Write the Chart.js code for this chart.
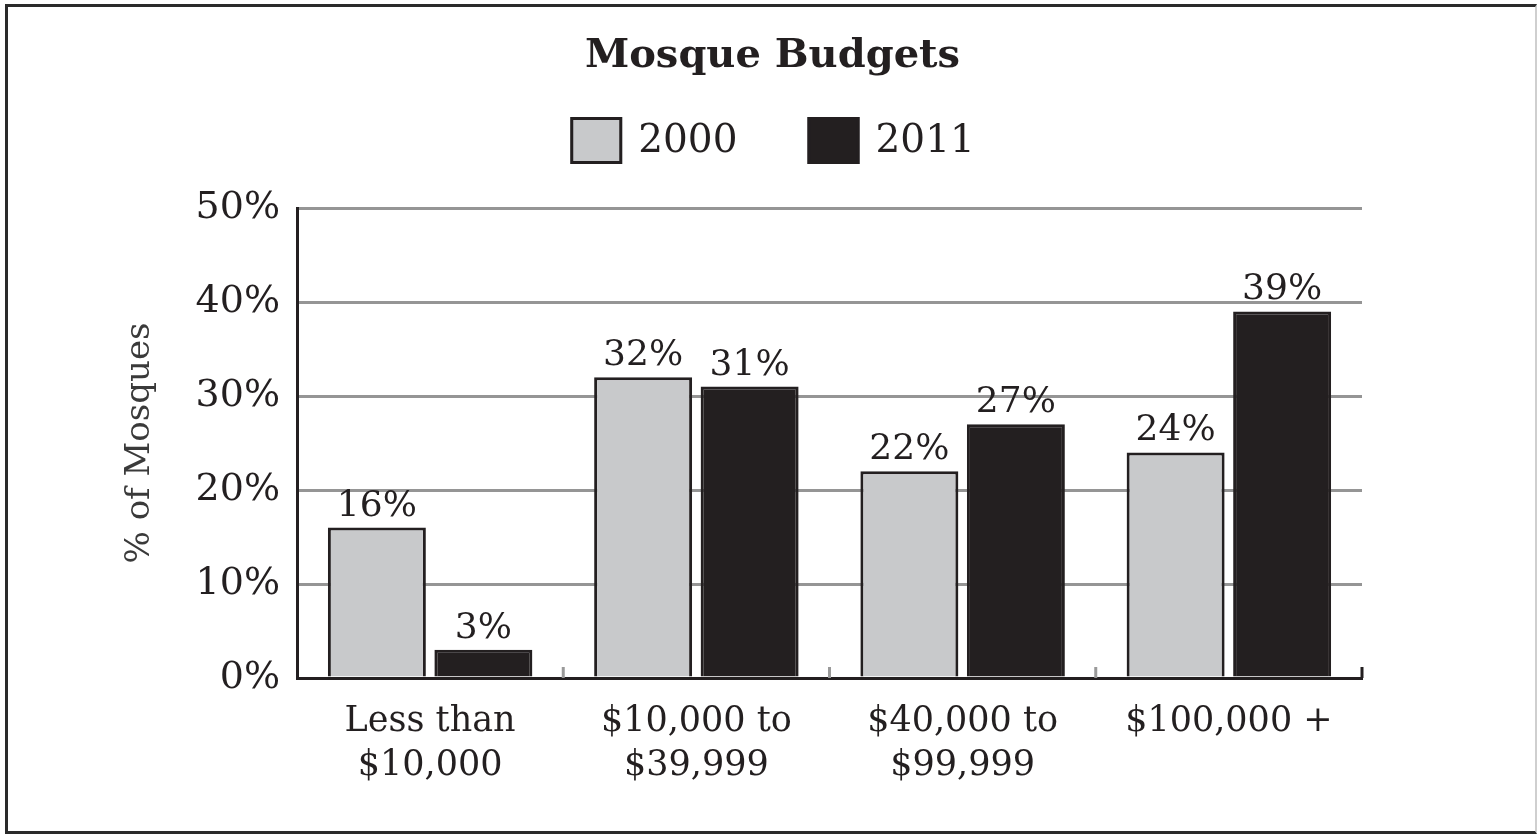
<!DOCTYPE html>
<html>
<head>
<meta charset="utf-8">
<title>Mosque Budgets</title>
<script src="https://cdn.jsdelivr.net/npm/chart.js@4.4.1/dist/chart.umd.min.js"></script>
<style>
    html, body { margin: 0; padding: 0; background: #ffffff; }
    #wrap { position: relative; width: 1537px; height: 834px; }
    #frame {
        position: absolute; left: 5px; top: 4px; right: 0; bottom: 0;
        border-left: 3px solid #2a2a2a; border-top: 3px solid #2a2a2a;
        border-bottom: 3px solid #2a2a2a; border-right: 2px solid #cfcfcf;
        pointer-events: none;
    }
    canvas { position: absolute; left: 0; top: 0; }
</style>
</head>
<body>
<div id="wrap">
    <canvas id="budgetChart" width="1537" height="834"></canvas>
    <div id="frame"></div>
</div>
<script>
// Budget brackets and share of mosques per survey year
const categories = [['Less than', '$10,000'], ['$10,000 to', '$39,999'], ['$40,000 to', '$99,999'], ['$100,000 +']];
const years = ['2000', '2011'];
const share2000 = [16, 32, 22, 24];
const share2011 = [3, 31, 27, 39];
const yTicks = [0, 10, 20, 30, 40, 50];

const INK = '#231f20';
const SERIF = "'DejaVu Serif', serif";

// Value labels above each bar
const barLabels = {
    id: 'barLabels',
    afterDatasetsDraw(chart) {
        const ctx = chart.ctx;
        ctx.save();
        ctx.font = '36px ' + SERIF;
        ctx.fillStyle = INK;
        ctx.textAlign = 'center';
        ctx.textBaseline = 'alphabetic';
        chart.data.datasets.forEach((ds, i) => {
            chart.getDatasetMeta(i).data.forEach((bar, j) => {
                ctx.fillText(ds.data[j] + '%', bar.x, bar.y - 12);
            });
        });
        ctx.restore();
    },
};

// Short upward tick marks on the category axis between groups
const axisTicks = {
    id: 'axisTicks',
    afterDatasetsDraw(chart) {
        const x = chart.scales.x;
        const ctx = chart.ctx;
        const base = chart.chartArea.bottom;
        ctx.save();
        ctx.lineWidth = 3;
        for (let i = 1; i <= categories.length; i++) {
            const px = x.getPixelForValue(i - 0.5);
            ctx.strokeStyle = i === categories.length ? INK : '#9a9a9a';
            ctx.beginPath();
            ctx.moveTo(px, base);
            ctx.lineTo(px, base - 11);
            ctx.stroke();
        }
        ctx.restore();
    },
};

// Legend row under the title: swatch, label, wide gap between entries
const swatchLegend = {
    id: 'swatchLegend',
    afterDraw(chart) {
        const ctx = chart.ctx;
        const title = chart.titleBlock;
        const cx = (title.left + title.right) / 2;
        const box = 52, boxH = 47, textGap = 16, itemGap = 70;
        const top = 117;
        ctx.save();
        ctx.font = '39px ' + SERIF;
        const items = chart.data.datasets.map(ds => ({ ds, w: ctx.measureText(ds.label).width }));
        const total = items.reduce((s, it) => s + box + textGap + it.w, 0) + itemGap * (items.length - 1);
        let x = cx - total / 2;
        items.forEach(({ ds, w }) => {
            ctx.fillStyle = ds.backgroundColor;
            ctx.fillRect(x, top, box, boxH);
            ctx.lineWidth = 3;
            ctx.strokeStyle = ds.borderColor;
            ctx.strokeRect(x + 1.5, top + 1.5, box - 3, boxH - 3);
            ctx.fillStyle = INK;
            ctx.textAlign = 'left';
            ctx.textBaseline = 'middle';
            ctx.fillText(ds.label, x + box + textGap, top + boxH / 2 + 1);
            x += box + textGap + w + itemGap;
        });
        ctx.restore();
    },
};

new Chart(document.getElementById('budgetChart'), {
    type: 'bar',
    data: {
        labels: categories,
        datasets: [{
            label: years[0],
            data: share2000,
            backgroundColor: '#c8c9cb',
            borderColor: INK,
            borderWidth: 3,
        }, {
            label: years[1],
            data: share2011,
            backgroundColor: INK,
            borderColor: INK,
            borderWidth: 3,
        }],
    },
    options: {
        responsive: false,
        animation: false,
        categoryPercentage: 0.8,
        barPercentage: 0.92,
        layout: {
            padding: { left: 8, right: 0, top: 0, bottom: 0 },
        },
        plugins: {
            tooltip: { enabled: false },
            legend: { display: false },
            title: {
                display: true,
                text: 'Mosque Budgets',
                color: INK,
                font: { family: SERIF, size: 40, weight: 'bold', lineHeight: 1.2 },
                padding: { top: 33, bottom: 127 },
            },
        },
        scales: {
            x: {
                grid: { display: false },
                border: { display: true, color: INK, width: 3 },
                ticks: {
                    color: INK,
                    font: { family: SERIF, size: 35, lineHeight: 1.25 },
                    padding: 14,
                    maxRotation: 0,
                },
                afterFit(scale) { scale.height = 834 - 678; },
            },
            y: {
                min: 0,
                max: 50,
                afterBuildTicks(scale) { scale.ticks = yTicks.map(v => ({ value: v })); },
                grid: {
                    color: '#959595',
                    lineWidth: 3,
                    drawTicks: false,
                },
                border: { display: true, color: INK, width: 3 },
                ticks: {
                    color: INK,
                    font: { family: SERIF, size: 38 },
                    padding: 17,
                    callback: v => v + '%',
                },
                title: {
                    display: true,
                    text: '% of Mosques',
                    color: '#3a3a3a',
                    font: { family: SERIF, size: 34 },
                    padding: { top: 112, bottom: 0 },
                },
                afterFit(scale) { scale.width = 289; },
            },
            // empty right-hand margin so the plot ends short of the frame
            margin: {
                type: 'linear',
                position: 'right',
                grid: { display: false },
                border: { display: false },
                ticks: { display: false },
                afterFit(scale) { scale.width = 175; },
            },
        },
    },
    plugins: [barLabels, axisTicks, swatchLegend],
});
</script>
</body>
</html>
